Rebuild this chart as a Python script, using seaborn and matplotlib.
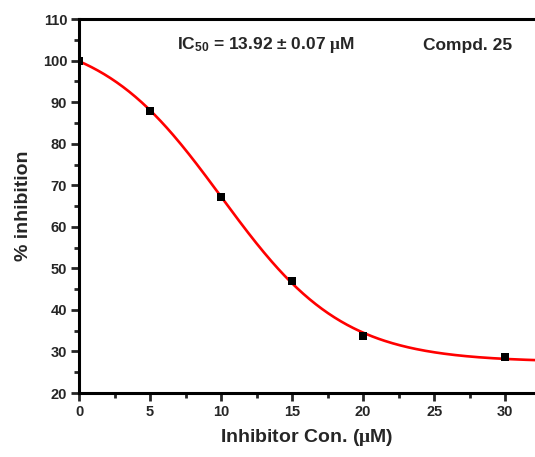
import numpy as np
import pandas as pd
import matplotlib
matplotlib.use("Agg")
import matplotlib.pyplot as plt
from matplotlib.ticker import MultipleLocator
import seaborn as sns

# Measured inhibition at each inhibitor concentration
concentration = [0, 5, 10, 15, 20, 30]
inhibition = [100.0, 87.9, 67.2, 47.0, 33.7, 28.6]

x_ticks = [0, 5, 10, 15, 20, 25, 30]
y_ticks = [20, 30, 40, 50, 60, 70, 80, 90, 100, 110]
ic50_label = "IC$_{50}$ = 13.92 ± 0.07 $\\mathsf{\\mu}$M"
compound_label = "Compd. 25"


def boltzmann(x, p):
    a1, a2, x0, dx = p
    return a2 + (a1 - a2) / (1.0 + np.exp((x - x0) / dx))


def fit_boltzmann(x, y, p0, iters=200):
    # damped Gauss-Newton least squares
    p = np.array(p0, dtype=float)
    lam = 1e-3
    for _ in range(iters):
        r = y - boltzmann(x, p)
        J = np.empty((len(x), len(p)))
        for k in range(len(p)):
            h = 1e-6 * max(1.0, abs(p[k]))
            dp = p.copy()
            dp[k] += h
            J[:, k] = (boltzmann(x, dp) - boltzmann(x, p)) / h
        A = J.T @ J
        g = J.T @ r
        step = np.linalg.solve(A + lam * np.diag(np.diag(A)), g)
        new = p + step
        if np.sum((y - boltzmann(x, new)) ** 2) < np.sum(r ** 2):
            p, lam = new, lam * 0.3
        else:
            lam *= 10
    return p


xd = np.array(concentration, dtype=float)
yd = np.array(inhibition, dtype=float)
params = fit_boltzmann(xd, yd, [105, 28, 10, 4])

x_fit = np.linspace(0, 33, 300)
fit_df = pd.DataFrame({"conc": x_fit, "inh": boltzmann(x_fit, params)})
pts_df = pd.DataFrame({"conc": concentration, "inh": inhibition})

sns.set_style("ticks")
plt.rcParams["font.family"] = ["Liberation Sans", "DejaVu Sans"]
plt.rcParams["font.weight"] = "bold"
plt.rcParams["mathtext.fontset"] = "custom"
plt.rcParams["mathtext.rm"] = "Liberation Sans:bold"
plt.rcParams["mathtext.it"] = "Liberation Sans:bold"
plt.rcParams["mathtext.bf"] = "Liberation Sans:bold"
plt.rcParams["mathtext.sf"] = "Liberation Serif:bold"
plt.rcParams["mathtext.default"] = "rm"

fig = plt.figure(figsize=(5.35, 4.57), dpi=100)
ax = fig.add_axes([0.1477, 0.140, 0.8523, 0.818])

sns.lineplot(data=fit_df, x="conc", y="inh", ax=ax, color="#ff0000",
             linewidth=1.9, zorder=2)
sns.scatterplot(data=pts_df, x="conc", y="inh", ax=ax, marker="s", s=36,
                color="black", edgecolor="black", linewidth=0, zorder=3)

ax.set_xlim(0, 32.1)
ax.set_ylim(20, 110)
ax.set_xticks(x_ticks)
ax.set_yticks(y_ticks)
ax.xaxis.set_minor_locator(MultipleLocator(2.5))
ax.yaxis.set_minor_locator(MultipleLocator(5))

for side in ["left", "bottom", "top"]:
    ax.spines[side].set_linewidth(2.2)
    ax.spines[side].set_color("black")
ax.spines["right"].set_visible(False)

ax.tick_params(which="major", direction="out", length=5.5, width=2.0,
               labelsize=10.5, pad=3, top=False, right=False)
ax.tick_params(which="minor", direction="out", length=3.5, width=2.0,
               top=False, right=False)
for lab in ax.get_xticklabels() + ax.get_yticklabels():
    lab.set_fontweight("bold")

ax.set_xlabel("Inhibitor Con. ($\\mathsf{\\mu}$M)", fontsize=14,
              fontweight="bold", labelpad=6)
ax.set_ylabel("% inhibition", fontsize=14, fontweight="bold", labelpad=8)

ax.text(0.215, 0.930, ic50_label, transform=ax.transAxes, fontsize=12.5,
        fontweight="bold", ha="left", va="center")
ax.text(0.754, 0.930, compound_label, transform=ax.transAxes, fontsize=12.5,
        fontweight="bold", ha="left", va="center")

fig.savefig("out.png", dpi=100)
